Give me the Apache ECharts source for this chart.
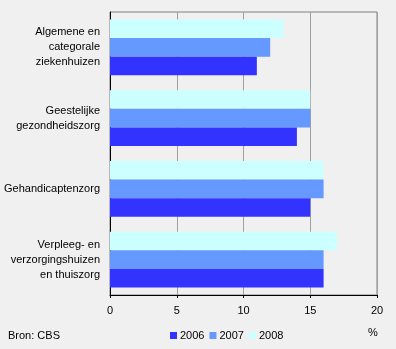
<!DOCTYPE html>
<html><head><meta charset="utf-8">
<script src="https://cdn.jsdelivr.net/npm/echarts@6/dist/echarts.min.js"></script>
<style>html,body{margin:0;padding:0;background:#f0f0f0;}#c{width:396px;height:349px;}</style>
</head><body><div id="c"></div>
<script>
const categories = ["Algemene en\ncategorale\nziekenhuizen", "Geestelijke\ngezondheidszorg", "Gehandicaptenzorg", "Verpleeg- en\nverzorgingshuizen\nen thuiszorg"];
const v2006 = [11, 14, 15, 16];
const v2007 = [12, 15, 16, 16];
const v2008 = [13, 15, 16, 17];
const xTicks = [0, 5, 10, 15, 20];
const font = "Arial, 'Liberation Sans', sans-serif";
const chart = echarts.init(document.getElementById('c'));
chart.setOption({
  backgroundColor: '#f0f0f0',
  animation: false,
  textStyle: {fontFamily: font, color: '#000', fontSize: 11},
  grid: {left: 110, top: 12, right: 19, bottom: 54, show: true, borderColor: '#808080', borderWidth: 1, backgroundColor: 'transparent'},
  xAxis: {
    type: 'value', min: xTicks[0], max: xTicks[xTicks.length-1], interval: 5,
    axisLine: {show: true, lineStyle: {color: '#000'}},
    axisTick: {show: true, length: 3, lineStyle: {color: '#000'}},
    axisLabel: {color: '#000', fontSize: 11, fontFamily: font, margin: 10},
    splitLine: {show: true, lineStyle: {color: '#a0a0a0'}}
  },
  yAxis: {
    type: 'category', data: categories, inverse: true,
    axisLine: {show: true, lineStyle: {color: '#000'}},
    axisTick: {show: false},
    axisLabel: {color: '#000', fontSize: 11, fontFamily: font, margin: 10, lineHeight: 15, align: 'right'}
  },
  legend: {
    bottom: 8, left: 170, padding: 0, itemWidth: 7, itemHeight: 7, itemGap: 5,
    icon: 'rect',
    textStyle: {fontSize: 11, fontFamily: font, color: '#000', padding: [0,0,0,-2]},
    data: ['2006', '2007', '2008']
  },
  graphic: [
    {type: 'text', left: 8, bottom: 8, style: {text: 'Bron: CBS', font: '11px ' + font, fill: '#000'}},
    {type: 'text', left: 368, bottom: 11, style: {text: '%', font: '11px ' + font, fill: '#000'}}
  ],
  series: [
    {name: '2008', type: 'bar', data: v2008, itemStyle: {color: '#ccffff'}, barGap: '0%', barCategoryGap: '21%'},
    {name: '2007', type: 'bar', data: v2007, itemStyle: {color: '#6699ff'}},
    {name: '2006', type: 'bar', data: v2006, itemStyle: {color: '#3333ff'}}
  ]
});
</script></body></html>
